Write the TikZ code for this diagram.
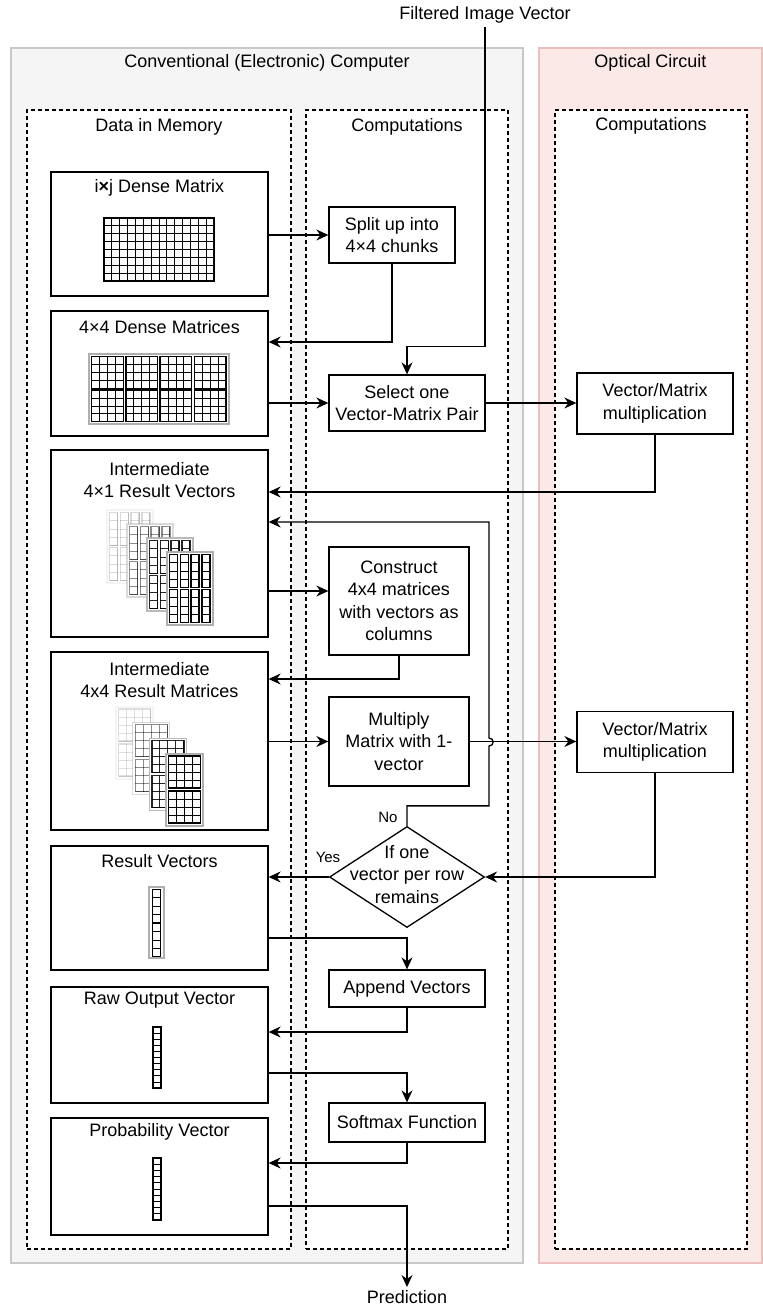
\documentclass[tikz,border=0pt]{standalone}
\usepackage{fontspec}
\setmainfont{Liberation Sans}
\usetikzlibrary{arrows.meta,shapes.geometric,calc}
\definecolor{greyfill}{RGB}{245,245,245}
\definecolor{greyline}{RGB}{200,200,200}
\definecolor{pinkfill}{RGB}{251,233,232}
\definecolor{pinkline}{RGB}{236,190,188}
\definecolor{icongrey}{RGB}{175,175,175}
\newcommand\cgrid[6]{%
  \pgfmathsetmacro\cgw{(#3)/(#5)}%
  \pgfmathsetmacro\cgh{(#4)/(#6)}%
  \foreach \ci in {1,...,#5}{\draw[line width=0.8pt] ({#1+\ci*\cgw},{#2}) -- ++(0,#4);}%
  \foreach \cj in {1,...,#6}{\draw[line width=0.8pt] ({#1},{#2+\cj*\cgh}) -- ++(#3,0);}%
  \draw[line width=1.4pt] ({#1},{#2}) rectangle ++(#3,#4);%
}
\newcommand\veclayer[3]{%
  \fill[white] ({#1},{#2}) rectangle ++(46,73);%
  \begin{scope}[opacity=#3]%
    \draw[icongrey,line width=1.5pt] ({#1},{#2}) rectangle ++(46,73);%
    \foreach \cc in {0,...,3}{\foreach \rr in {0,1}{\cgrid{#1+2.7+\cc*10.7}{#2+2.5+\rr*35}{8}{33}{1}{4}}}%
  \end{scope}%
}
\newcommand\matlayer[3]{%
  \fill[white] ({#1},{#2}) rectangle ++(37,72);%
  \begin{scope}[opacity=#3]%
    \draw[icongrey,line width=1.5pt] ({#1},{#2}) rectangle ++(37,72);%
    \cgrid{#1+2.5}{#2+2}{32}{32}{4}{4}%
    \cgrid{#1+2.5}{#2+37}{32}{32}{4}{4}%
  \end{scope}%
}
\tikzset{
  txt/.style={font=\fontsize{18}{22.5}\selectfont, align=center, inner sep=0pt},
  small/.style={font=\fontsize{15}{18}\selectfont, inner sep=0pt},
  cbox/.style={draw, line width=1.3pt, fill=white, txt},
  mem/.style={draw, line width=1.3pt, fill=white, minimum width=217pt, inner sep=0pt},
  dbox/.style={draw, dash pattern=on 4pt off 3pt, line width=1.3pt, fill=white, inner sep=0pt},
  arr/.style={line width=1.3pt, -{Stealth[length=12pt,width=11pt,inset=4pt]}},
}
\begin{document}
\begin{tikzpicture}[x=1pt,y=-1pt]
\useasboundingbox (0,0) rectangle (763,1307);
\fill[white] (0,0) rectangle (763,1307);
% containers
\node[draw=greyline, fill=greyfill, line width=1.3pt, minimum width=512pt, minimum height=1215pt, inner sep=0pt] (conv) at (267,655.5) {};
\node[draw=pinkline, fill=pinkfill, line width=1.3pt, minimum width=223pt, minimum height=1215pt, inner sep=0pt] (opt) at (650.5,655.5) {};
\node[txt] (convt) at (267,63) {Conventional (Electronic) Computer};
\node[txt] (optt) at (650.5,63) {Optical Circuit};
\node[dbox, minimum width=264pt, minimum height=1139pt] (memd) at (159,679.5) {};
\node[dbox, minimum width=202pt, minimum height=1139pt] (compd) at (407,679.5) {};
\node[dbox, minimum width=192pt, minimum height=1139pt] (optd) at (651,679.5) {};
\node[txt] (memt) at (159,127) {Data in Memory};
\node[txt] (compt) at (407,127) {Computations};
\node[txt] (optdt) at (651,126) {Computations};
% memory boxes
\node[mem, minimum height=124pt] (m1) at (159.5,234) {};
\node[mem, minimum height=125pt] (m2) at (159.5,373.5) {};
\node[mem, minimum height=187pt] (m3) at (159.5,543.5) {};
\node[mem, minimum height=178pt] (m4) at (159.5,741) {};
\node[mem, minimum height=124pt] (m5) at (159.5,908) {};
\node[mem, minimum height=116pt] (m6) at (159.5,1045) {};
\node[mem, minimum height=117pt] (m7) at (159.5,1176.5) {};
\node[txt] (m1t) at (159.5,188) {i\textbf{×}j Dense Matrix};
\node[txt] (m2t) at (159.5,327) {4×4 Dense Matrices};
\node[txt] (m3t) at (159.5,480) {Intermediate\\4×1 Result Vectors};
\node[txt] (m4t) at (159.5,680) {Intermediate\\4x4 Result Matrices};
\node[txt] (m5t) at (159.5,861) {Result Vectors};
\node[txt] (m6t) at (159.5,1000) {Raw Output Vector};
\node[txt] (m7t) at (159.5,1132) {Probability Vector};
% icons
\cgrid{104}{218}{110}{63}{14}{8}
\draw[icongrey, line width=1.5pt] (89,354) rectangle (229,424);
\foreach \cc in {0,...,3}{\foreach \rr in {0,1}{\cgrid{91.7+\cc*34.2}{356.7+\rr*33.4}{31.6}{31.6}{4}{4}}}
\veclayer{107}{510}{0.15}
\veclayer{127}{524}{0.45}
\veclayer{147}{538}{0.85}
\veclayer{167}{552}{1}
\matlayer{116}{707}{0.12}
\matlayer{132.7}{722.7}{0.45}
\matlayer{149.3}{738.3}{0.85}
\matlayer{166}{754}{1}
\draw[icongrey, line width=1.5pt] (149,887) rectangle (164,958);
\cgrid{152.3}{889.5}{8.4}{33}{1}{4}
\cgrid{152.3}{923.5}{8.4}{33}{1}{4}
\cgrid{153}{1027}{8}{61}{1}{10}
\cgrid{153}{1158}{8}{62}{1}{10}
% computation boxes
\node[cbox, minimum width=126pt, minimum height=56pt] (split) at (392,235) {Split up into\\4×4 chunks};
\node[cbox, minimum width=156pt, minimum height=56pt] (sel) at (407,403) {Select one\\Vector-Matrix Pair};
\node[cbox, minimum width=140pt, minimum height=108pt] (con) at (399,601) {Construct\\4x4 matrices\\with vectors as\\columns};
\node[cbox, minimum width=140pt, minimum height=89pt] (mul) at (399,741.5) {Multiply\\Matrix with 1-\\vector};
\node[draw, diamond, line width=1.3pt, fill=white, minimum width=155pt, minimum height=101pt, inner sep=0pt] (dec) at (407,877) {};
\node[txt] (dect) at (407,874.5) {If one\\vector per row\\remains};
\node[cbox, minimum width=156pt, minimum height=37pt] (app) at (407,988.5) {Append Vectors};
\node[cbox, minimum width=156pt, minimum height=39pt] (soft) at (407,1122.5) {Softmax Function};
\node[cbox, minimum width=156pt, minimum height=61pt] (vm1) at (655,403.5) {Vector/Matrix\\multiplication};
\node[cbox, minimum width=156pt, minimum height=61pt] (vm2) at (655,742) {Vector/Matrix\\multiplication};
% free labels
\node[txt, inner sep=3pt] (fiv) at (485,15) {Filtered Image Vector};
\node[txt, inner ysep=3.5pt, anchor=north] (pred) at (407,1287) {Prediction};
\node[small] (no) at (388,817) {No};
\node[small] (yes) at (328,857) {Yes};
% connectors
\draw[arr] (m1.east |- split.west) -- (split.west);
\draw[arr] (split.south) |- ($(m2.east)+(0,-31.5)$);
\draw[arr] (m2.east |- sel.west) -- (sel.west);
\draw[arr] (fiv.south) |- ($(sel.north)+(0,-28)$) -- (sel.north);
\draw[arr] (sel.east) -- (vm1.west |- sel.east);
\draw[arr] (vm1.south) |- ($(m3.east)+(0,-51.5)$);
\draw[arr] ($(m3.east)+(0,47.5)$) -- ($(con.west)+(0,-10)$);
\draw[arr] (con.south) |- ($(m4.east)+(0,-62)$);
\draw[arr] (m4.east |- mul.west) -- (mul.west);
\draw[arr] (mul.east) -- (vm2.west |- mul.east);
\draw[arr] (vm2.south) |- (dec.east);
\coordinate (j1) at (489,746);
\coordinate (j2) at (489,738);
\draw[arr] (dec.north) -- ++(0,-20) -| (j1) .. controls +(5.5,0) and +(5.5,0) .. (j2) |- ($(m3.east)+(0,-21.5)$);
\draw[arr] (dec.west) -- (m5.east |- dec.west);
\draw[arr] ($(m5.east)+(0,30)$) -| (app.north);
\draw[arr] (app.south) |- ($(m6.east)+(0,-13)$);
\draw[arr] ($(m6.east)+(0,28)$) -| (soft.north);
\draw[arr] (soft.south) |- ($(m7.east)+(0,-13.5)$);
\draw[arr] ($(m7.east)+(0,29.5)$) -| (pred.north);
\end{tikzpicture}
\end{document}
